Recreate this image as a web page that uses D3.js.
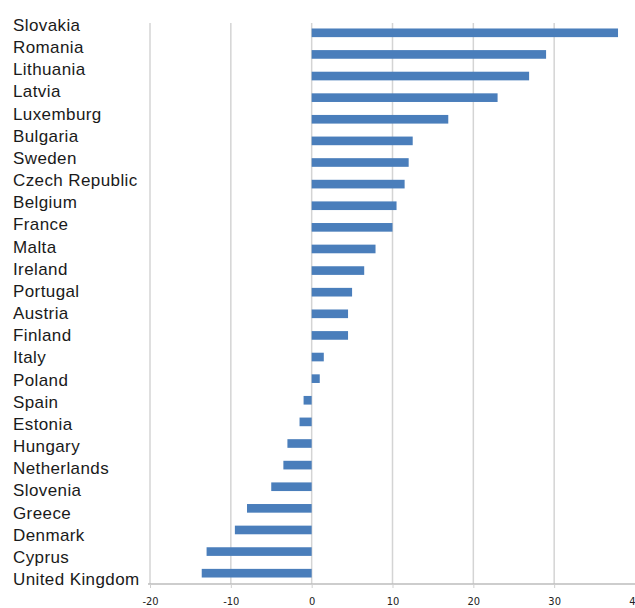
<!DOCTYPE html>
<html>
<head>
<meta charset="utf-8">
<script src="https://cdn.jsdelivr.net/npm/d3@7"></script>
<style>
  body { margin: 0; background: #fff; }
  svg { display: block; }
</style>
</head>
<body>
<div id="chart"></div>
<script>
// data
const countries = ["Slovakia", "Romania", "Lithuania", "Latvia", "Luxemburg", "Bulgaria", "Sweden",
    "Czech Republic", "Belgium", "France", "Malta", "Ireland", "Portugal", "Austria", "Finland",
    "Italy", "Poland", "Spain", "Estonia", "Hungary", "Netherlands", "Slovenia", "Greece",
    "Denmark", "Cyprus", "United Kingdom"];
const values = [37.9, 29.0, 26.9, 23.0, 16.9, 12.5, 12.0, 11.5, 10.5, 10.0, 7.9, 6.5, 5.0, 4.5, 4.5,
    1.5, 1.0, -1.0, -1.5, -3.0, -3.5, -5.0, -8.0, -9.5, -13.0, -13.6];
const xTicks = [-20, -10, 0, 10, 20, 30, 40];

let width = 635, height = 608;
let margin = { top: 22, right: 0, bottom: 24, left: 150 };

let svg = d3.select("#chart").append("svg")
    .attr("width", width)
    .attr("height", height);

let x = d3.scaleLinear()
    .domain([-20, 40])
    .range([margin.left, width - margin.right]);

let y = d3.scaleBand()
    .domain(countries)
    .range([margin.top, height - margin.bottom])
    .paddingInner(0.6)
    .paddingOuter(0.3);

// labels sit on their own slightly wider spacing
let yLabel = d3.scalePoint()
    .domain(countries)
    .range([31, 585]);

// vertical grid lines
svg.append("g")
    .selectAll("line")
    .data(xTicks.filter(d => d < 40))
    .join("line")
    .attr("x1", d => x(d))
    .attr("x2", d => x(d))
    .attr("y1", margin.top + 1)
    .attr("y2", height - margin.bottom)
    .attr("stroke", "#d4d4d4")
    .attr("stroke-width", 1.5);

// bars
svg.append("g")
    .selectAll("rect")
    .data(countries)
    .join("rect")
    .attr("x", (d, i) => x(Math.min(0, values[i])))
    .attr("y", d => y(d))
    .attr("width", (d, i) => Math.abs(x(values[i]) - x(0)))
    .attr("height", y.bandwidth())
    .attr("fill", "#4a7ebb");

// x axis
let xAxis = d3.axisBottom(x)
    .tickValues(xTicks)
    .tickSize(4)
    .tickPadding(9)
    .tickFormat(d => String(d));

let axisG = svg.append("g")
    .attr("transform", "translate(0," + (height - margin.bottom) + ")")
    .call(xAxis);

axisG.select(".domain")
    .attr("stroke", "#bdbdbd")
    .attr("stroke-width", 1.5)
    .attr("d", "M" + (margin.left - 2) + ",0H" + width);
axisG.selectAll(".tick line").attr("stroke", "#cfcfcf");
axisG.selectAll("text")
    .attr("fill", "#222")
    .style("font-family", "'Liberation Sans Narrow', 'DejaVu Sans Condensed', 'Liberation Sans', Arial, sans-serif")
    .style("font-size", "11px");

// country labels
svg.append("g")
    .selectAll("text")
    .data(countries)
    .join("text")
    .attr("x", 13)
    .attr("y", d => yLabel(d))
    .attr("fill", "#1a1a1a")
    .style("font-family", "'Liberation Sans', Arial, sans-serif")
    .style("font-size", "17px")
    .style("letter-spacing", "0.4px")
    .text(d => d);
</script>
</body>
</html>
